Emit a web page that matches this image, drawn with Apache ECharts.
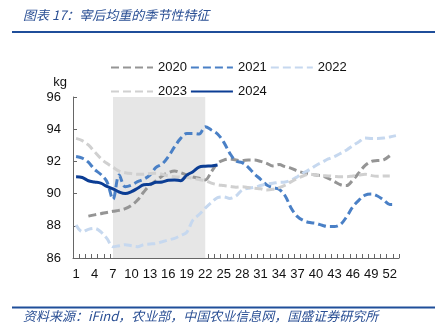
<!DOCTYPE html>
<html>
<head>
<meta charset="utf-8">
<script src="https://cdn.jsdelivr.net/npm/echarts@6/dist/echarts.min.js"></script>
<style>
html,body{margin:0;padding:0;background:#fff;}
#main{width:439px;height:330px;}
</style>
</head>
<body>
<div id="main"></div>
<script>
var weeks = [];
for (var i = 1; i <= 53; i++) weeks.push(String(i));

var s2020 = [null, null, 88.6, 88.68, 88.75, 88.83, 88.9, 88.96, 89.06, 89.27, 89.6, 90.1, 90.53, 90.8, 91.1, 91.3, 91.4, 91.3, 91.15, 91.03, 90.95, 90.85, 91.36, 91.88, 92.08, 92.15, 92.08, 92.05, 92.08, 92.08, 92.0, 91.88, 91.72, 91.8, 91.67, 91.57, 91.4, 91.3, 91.22, 91.15, 91.1, 90.95, 90.75, 90.55, 90.5, 90.85, 91.3, 91.75, 92.0, 92.05, 92.1, 92.35, null];
var s2021 = [92.3, 92.2, 91.95, 91.5, 91.2, 90.75, 89.65, 91.15, 90.43, 90.53, 90.74, 90.89, 91.15, 91.63, 91.84, 92.3, 92.9, 93.43, 93.74, 93.74, 93.7, 94.15, 93.95, 93.7, 93.2, 92.5, 92.02, 91.92, 91.63, 91.22, 90.89, 90.53, 90.37, 90.27, 89.85, 89.08, 88.57, 88.32, 88.2, 88.15, 88.03, 87.95, 87.95, 88.09, 88.57, 89.19, 89.6, 89.91, 89.97, 89.85, 89.6, 89.33, 89.33];
var s2022 = [88.05, 87.63, 87.78, 87.84, 87.63, 87.22, 86.7, 86.76, 86.83, 86.76, 86.7, 86.83, 86.87, 86.9, 87.01, 87.12, 87.22, 87.4, 87.6, 88.36, 88.7, 89.1, 89.45, 89.75, 89.8, 89.7, 89.85, 90.22, 90.33, 90.4, 90.5, 90.6, 90.64, 90.7, 90.72, 90.84, 91.05, 91.3, 91.5, 91.75, 91.95, 92.15, 92.3, 92.5, 92.71, 92.98, 93.22, 93.45, 93.43, 93.43, 93.45, 93.52, 93.6];
var s2023 = [93.43, 93.29, 93.02, 92.6, 92.19, 91.88, 91.63, 91.4, 91.3, 91.24, 91.2, 91.2, 91.24, 91.26, 91.2, 91.1, 91.05, 91.02, 91.0, 90.95, 90.87, 90.8, 90.65, 90.55, 90.5, 90.45, 90.4, 90.42, 90.38, 90.33, 90.3, 90.22, 90.27, 90.37, 90.53, 90.74, 90.95, 91.11, 91.2, 91.15, 91.11, 91.1, 91.07, 91.05, 91.05, 91.1, 91.15, 91.2, 91.12, 91.08, 91.1, 91.1, null];
var s2024 = [91.05, 91.0, 90.8, 90.72, 90.65, 90.45, 90.3, 90.1, 90.0, 90.12, 90.33, 90.55, 90.58, 90.7, 90.72, 90.83, 90.85, 90.8, 91.15, 91.36, 91.65, 91.7, 91.72, 91.78];

var seriesNames = ['2020', '2021', '2022', '2023', '2024'];
var shadeRange = ['7', '22'];
var yTicks = {min: 86, max: 96, step: 2};

var font = 'Liberation Sans';
var cjk = '"Noto Sans CJK SC"';

function dashed(name, data, color, z) {
  return {
    name: name, type: 'line', data: data, symbol: 'none', smooth: 0.35,
    connectNulls: false, z: z,
    lineStyle: {color: color, width: 3, type: [8, 4]},
    itemStyle: {color: color}
  };
}

var series = [
  dashed(seriesNames[0], s2020, '#959595', 3),
  dashed(seriesNames[1], s2021, '#4a80c6', 3),
  dashed(seriesNames[2], s2022, '#c6d8ef', 3),
  dashed(seriesNames[3], s2023, '#d0d0d0', 3),
  {
    name: seriesNames[4], type: 'line', data: s2024, symbol: 'none', smooth: 0.35, z: 4,
    lineStyle: {color: '#0b3d94', width: 3},
    itemStyle: {color: '#0b3d94'}
  }
];
series[0].markArea = {
  silent: true,
  itemStyle: {color: '#e6e6e6'},
  data: [[{xAxis: shadeRange[0]}, {xAxis: shadeRange[1]}]]
};

var chart = echarts.init(document.getElementById('main'), null, {renderer: 'canvas'});
var legendCommon = {
  left: 110, itemWidth: 42, itemHeight: 12, itemGap: 3, padding: 0,
  itemStyle: {opacity: 0},
  textStyle: {fontFamily: font, fontSize: 13, color: '#111'},
  selectedMode: false
};
chart.setOption({
  animation: false,
  backgroundColor: '#fff',
  legend: [
    Object.assign({top: 61, data: seriesNames.slice(0, 3)}, legendCommon),
    Object.assign({top: 85, data: seriesNames.slice(3)}, legendCommon)
  ],
  grid: {left: 73, right: 40, top: 97, bottom: 72, containLabel: false},
  xAxis: {
    type: 'category', data: weeks, boundaryGap: true,
    axisLine: {lineStyle: {color: '#666', width: 1}},
    axisTick: {show: true, inside: true, length: 4, interval: 0, lineStyle: {color: '#666'}},
    axisLabel: {interval: 2, fontFamily: font, fontSize: 13, color: '#111', margin: 10}
  },
  yAxis: {
    type: 'value', min: yTicks.min, max: yTicks.max, interval: yTicks.step,
    name: 'kg', nameLocation: 'end', nameGap: 8,
    nameTextStyle: {fontFamily: font, fontSize: 13, color: '#111', align: 'right', padding: [0, 6, 0, 0]},
    axisLine: {show: true, lineStyle: {color: '#666', width: 1}},
    axisTick: {show: true, inside: true, length: 4, lineStyle: {color: '#666'}},
    splitLine: {show: false},
    axisLabel: {fontFamily: font, fontSize: 13, color: '#111', margin: 12}
  },
  graphic: [
    {type: 'text', left: 23, top: 9, style: {text: '图表 17：宰后均重的季节性特征', fontFamily: cjk, fontStyle: 'italic', fontSize: 13, fill: '#2a4f94'}},
    {type: 'rect', shape: {x: 12, y: 31, width: 423, height: 2}, style: {fill: '#1f4e9a'}},
    {type: 'rect', shape: {x: 12, y: 306.5, width: 423, height: 2}, style: {fill: '#1f4e9a'}},
    {type: 'text', left: 23, top: 310, style: {text: '资料来源：iFind，农业部，中国农业信息网，国盛证券研究所', fontFamily: cjk, fontStyle: 'italic', fontSize: 13, fill: '#2a4f94'}}
  ],
  series: series
});
</script>
</body>
</html>
